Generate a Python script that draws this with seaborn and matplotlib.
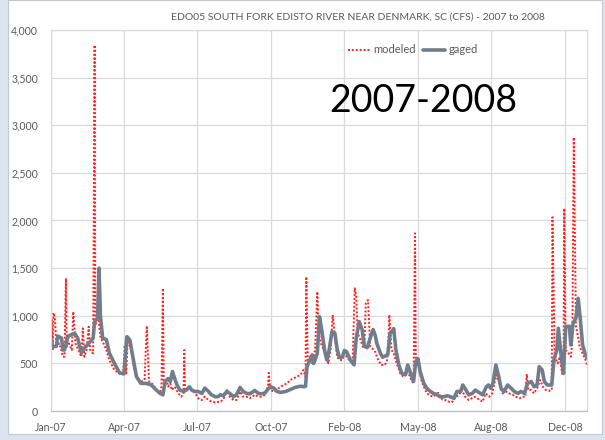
import numpy as np
import pandas as pd
import matplotlib
matplotlib.use("Agg")
import matplotlib.pyplot as plt
import matplotlib.dates as mdates
from matplotlib.ticker import FuncFormatter, MultipleLocator
from matplotlib.patches import Rectangle
import seaborn as sns

# Daily flow (CFS), days counted from 2007-01-01
gaged_day = [0, 3, 8, 10, 15, 17, 19, 24, 28, 33, 37, 42, 46, 51, 58, 60, 64, 66, 68, 71,
             76, 80, 87, 94, 100, 104, 108, 112, 117, 123, 130, 137, 142, 149, 153, 156, 160,
             163, 166, 169, 172, 176, 181, 185, 189, 192, 197, 201, 206, 210, 215, 219, 224,
             228, 231, 235, 240, 244, 249, 253, 258, 262, 267, 271, 278, 283, 287, 292, 296,
             299, 304, 308, 313, 320, 326, 333, 340, 345, 347, 349, 354, 356, 358, 360, 363,
             366, 369, 373, 376, 379, 383, 387, 390, 393, 397, 400, 403, 408, 413, 416, 420,
             424, 427, 431, 435, 439, 442, 444, 449, 452, 456, 459, 462, 466, 467, 470, 474,
             478, 483, 486, 490, 494, 497, 500, 503, 508, 512, 517, 521, 526, 530, 535, 540,
             544, 549, 553, 558, 561, 564, 569, 574, 578, 583, 588, 593, 596, 599, 602, 606,
             610, 613, 617, 622, 627, 631, 636, 640, 645, 649, 654, 658, 662, 665, 669, 672,
             676, 682, 685, 689, 691, 695, 698, 701, 706, 708, 711, 715, 718, 721, 724, 728, 730]
gaged_cfs = [760, 675, 680, 787, 765, 640, 640, 787, 800, 815, 765, 610, 660, 700, 765, 940,
             975, 1500, 990, 765, 750, 610, 500, 400, 390, 780, 745, 570, 360, 290, 290, 275,
             235, 185, 170, 310, 340, 310, 415, 340, 275, 220, 205, 220, 255, 220, 205, 205,
             185, 240, 205, 170, 150, 150, 170, 160, 205, 185, 150, 170, 248, 205, 185, 180,
             215, 185, 180, 190, 230, 255, 240, 205, 195, 205, 225, 248, 260, 255, 260, 465,
             553, 590, 500, 535, 605, 990, 855, 635, 535, 635, 833, 815, 650, 565, 565, 635,
             620, 535, 485, 763, 938, 855, 680, 665, 765, 855, 790, 710, 605, 565, 580, 595,
             815, 850, 865, 640, 483, 395, 380, 483, 395, 310, 518, 550, 413, 290, 238, 205,
             185, 170, 150, 150, 160, 150, 133, 205, 205, 273, 238, 170, 185, 220, 195, 170,
             255, 273, 238, 290, 483, 360, 238, 205, 273, 238, 205, 185, 205, 185, 290, 310,
             255, 273, 465, 430, 308, 273, 273, 535, 640, 868, 570, 395, 885, 890, 693, 920,
             975, 1183, 955, 693, 588, 555]

modeled_day = [0, 2, 3, 4, 6, 8, 12, 17, 19, 21, 22, 25, 29, 31, 34, 38, 42, 44, 46, 49, 52,
               54, 58, 60, 61, 65, 68, 71, 76, 80, 87, 94, 99, 101, 103, 105, 110, 114, 119,
               124, 128, 131, 134, 140, 144, 149, 151, 153, 154, 158, 160, 163, 165, 169, 174,
               178, 181, 182, 183, 188, 192, 197, 201, 206, 210, 215, 219, 224, 231, 235, 240,
               244, 249, 253, 258, 262, 267, 271, 278, 283, 287, 292, 296, 297, 299, 304, 308,
               313, 317, 322, 326, 331, 335, 340, 344, 347, 348, 350, 353, 356, 358, 360, 363,
               365, 368, 372, 375, 378, 381, 384, 387, 390, 393, 397, 400, 403, 408, 411, 414,
               416, 418, 422, 425, 427, 429, 432, 435, 440, 442, 444, 446, 450, 455, 458, 460,
               461, 464, 467, 471, 476, 480, 485, 488, 492, 494, 496, 497, 501, 505, 508, 512,
               517, 521, 526, 528, 533, 537, 542, 546, 551, 555, 560, 564, 569, 573, 578, 583,
               588, 592, 597, 601, 604, 607, 611, 615, 620, 624, 629, 633, 638, 642, 646, 648,
               650, 654, 658, 663, 666, 670, 674, 679, 682, 683, 686, 690, 693, 696, 698, 699,
               701, 705, 708, 710, 712, 715, 717, 720, 724, 728, 730]
modeled_cfs = [700, 955, 640, 1030, 980, 675, 710, 570, 570, 1393, 675, 710, 640, 1043, 710,
               640, 570, 868, 570, 640, 885, 640, 605, 3842, 900, 990, 765, 730, 640, 535, 430,
               395, 385, 693, 395, 745, 640, 430, 343, 310, 325, 893, 310, 275, 220, 180, 255,
               1288, 290, 325, 255, 290, 220, 255, 185, 150, 185, 640, 220, 238, 220, 185, 133,
               115, 150, 115, 98, 90, 98, 120, 220, 150, 115, 115, 205, 150, 150, 133, 170, 150,
               150, 170, 273, 400, 220, 205, 225, 255, 273, 290, 325, 343, 360, 378, 430, 360,
               1410, 535, 570, 500, 570, 640, 1253, 815, 710, 640, 570, 500, 640, 1008, 780, 570,
               535, 535, 605, 570, 520, 500, 1288, 1200, 815, 745, 675, 660, 1130, 1165, 675,
               640, 620, 570, 535, 483, 483, 535, 780, 1008, 640, 605, 500, 395, 360, 413, 378,
               310, 290, 1866, 570, 465, 310, 255, 185, 160, 150, 185, 190, 120, 115, 98, 90,
               150, 160, 220, 150, 115, 133, 150, 120, 98, 185, 150, 185, 290, 378, 290, 185,
               205, 185, 170, 150, 133, 150, 150, 388, 220, 220, 185, 255, 325, 255, 220, 212,
               220, 2034, 570, 500, 570, 395, 378, 2128, 640, 605, 570, 710, 2873, 885, 815, 675,
               605, 535, 483]

title = "EDO05 SOUTH FORK EDISTO RIVER NEAR DENMARK, SC (CFS) - 2007 to 2008"
period_label = "2007-2008"
series_names = ["modeled", "gaged"]

start = pd.Timestamp("2007-01-01")
gaged = pd.DataFrame({"date": start + pd.to_timedelta(gaged_day, unit="D"),
                      "cfs": gaged_cfs, "series": series_names[1]})
modeled = pd.DataFrame({"date": start + pd.to_timedelta(modeled_day, unit="D"),
                        "cfs": modeled_cfs, "series": series_names[0]})

sns.set_theme(style="white")
plt.rcParams["font.family"] = ["Lato", "DejaVu Sans"]

label_grey = "#595959"
grid_grey = "#d9d9d9"

fig = plt.figure(figsize=(6.05, 4.40), dpi=100)
fig.patch.set_facecolor("#dbe5f1")
# white chart panel behind everything
fig.patches.append(Rectangle((8 / 605, 6 / 440), 594 / 605, 434 / 440,
                             transform=fig.transFigure, facecolor="white",
                             edgecolor="#c8c8c8", linewidth=0.8, zorder=-10))

ax = fig.add_axes([50.5 / 605, 29 / 440, 536.5 / 605, 381 / 440])
ax.set_zorder(1)
ax.set_facecolor("none")

sns.lineplot(data=modeled, x="date", y="cfs", ax=ax, color="#ff2020",
             linewidth=1.4, linestyle=(0, (1, 1)), label=series_names[0])
sns.lineplot(data=gaged, x="date", y="cfs", ax=ax, color="#717d8a",
             linewidth=2.6, label=series_names[1])

ax.set_xlim(start, start + pd.Timedelta(days=730))
ax.set_ylim(0, 4000)
ticks = [start + pd.Timedelta(days=100 * k) for k in range(8)]
ax.set_xticks(ticks)
ax.xaxis.set_major_formatter(mdates.DateFormatter("%b-%y"))
ax.yaxis.set_major_locator(MultipleLocator(500))
ax.yaxis.set_major_formatter(FuncFormatter(lambda v, p: f"{v:,.0f}"))
ax.set_xlabel("")
ax.set_ylabel("")
ax.grid(True, color=grid_grey, linewidth=0.9)
ax.set_axisbelow(True)
for side in ["left", "top", "right"]:
    ax.spines[side].set_color(grid_grey)
    ax.spines[side].set_linewidth(0.9)
ax.spines["bottom"].set_color("#bfbfbf")
ax.spines["bottom"].set_linewidth(0.9)
ax.tick_params(axis="both", length=0, labelsize=7.6, labelcolor=label_grey)
ax.tick_params(axis="x", pad=8)
ax.tick_params(axis="y", pad=9)

leg = ax.legend(loc="upper left", bbox_to_anchor=(0.5545, 0.962), ncol=2, frameon=False,
                fontsize=8, handlelength=2.0, columnspacing=0.6, handletextpad=0.3,
                borderaxespad=0, borderpad=0)
for t in leg.get_texts():
    t.set_color(label_grey)

fig.text(358 / 605, 1 - 17 / 440, title, ha="center", va="center", fontsize=7.5,
         color=label_grey)
fig.text(423 / 605, 1 - 101 / 440, period_label, ha="center", va="center", fontsize=27,
         color="black")

fig.savefig("out.png", dpi=100, facecolor=fig.get_facecolor())
